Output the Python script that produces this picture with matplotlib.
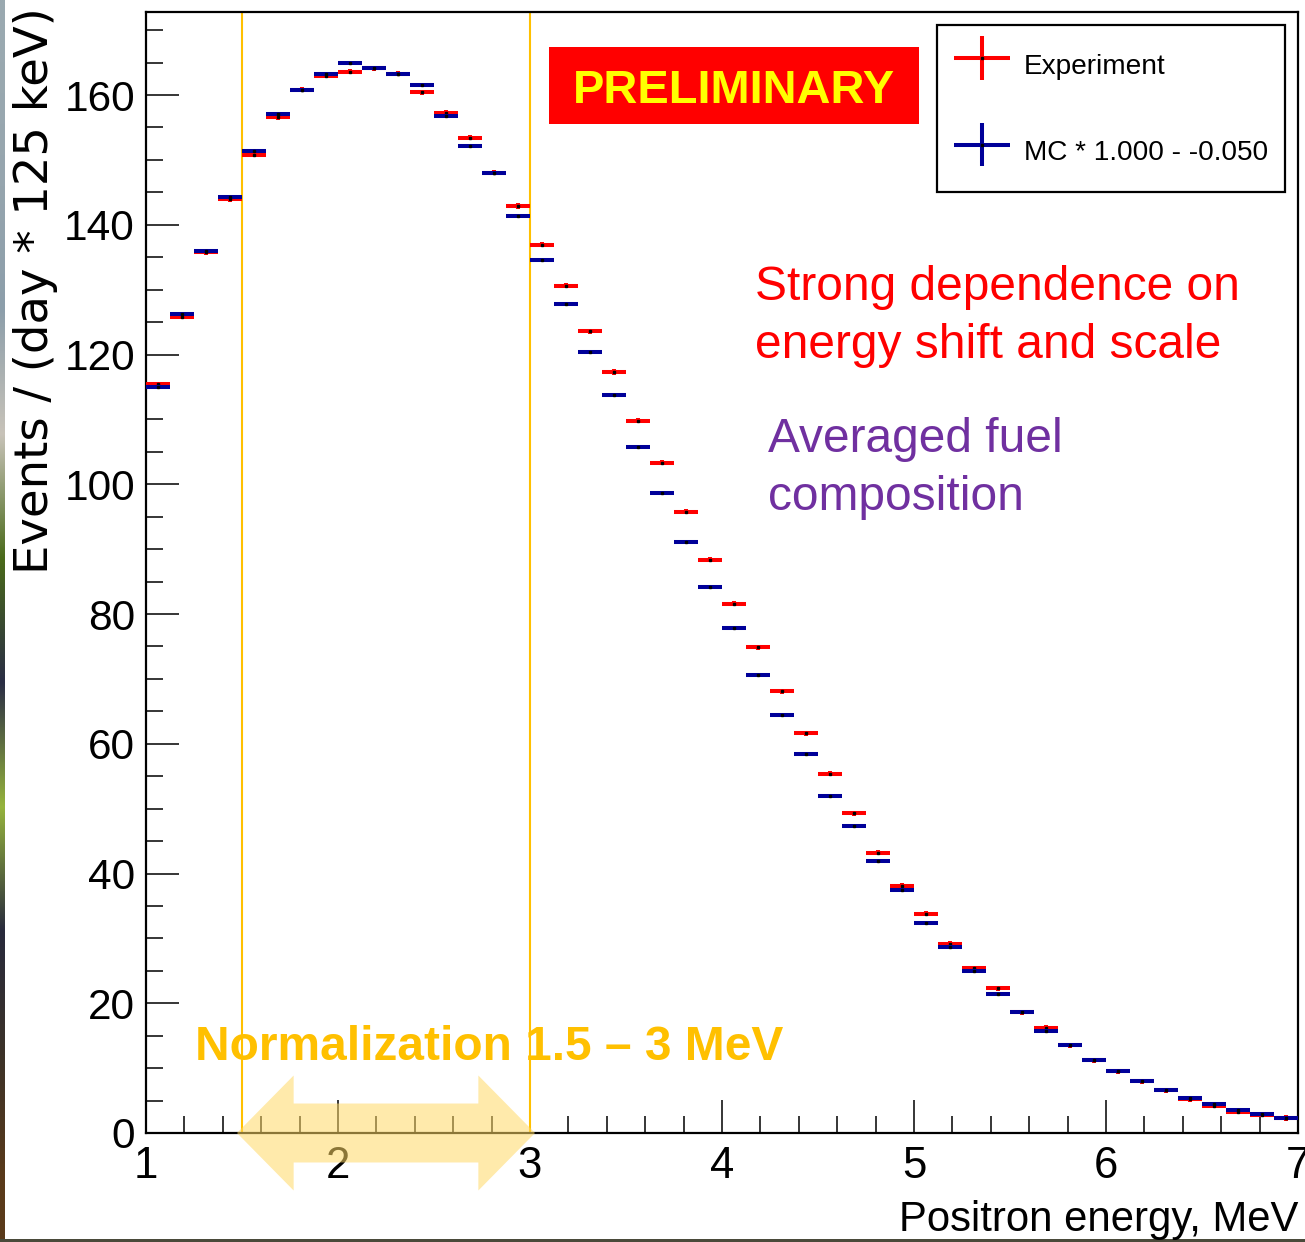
import numpy as np
import matplotlib
matplotlib.use("Agg")
import matplotlib.pyplot as plt
import matplotlib.transforms as mtransforms
from matplotlib.legend_handler import HandlerErrorbar
from matplotlib.patches import Polygon, Rectangle
from matplotlib.ticker import MultipleLocator

# ---- data (125 keV bins from 1 to 7 MeV) ----
E_MIN, E_MAX, BIN_W = 1.0, 7.0, 0.125
exp_counts = [115.4, 125.8, 135.8, 143.9, 150.8, 156.6, 160.8, 163.0,
              163.6, 164.1, 163.3, 160.4, 157.3, 153.4, 148.0, 142.9,
              136.9, 130.6, 123.6, 117.3, 109.8, 103.3, 95.8, 88.4,
              81.6, 74.9, 68.1, 61.6, 55.4, 49.3, 43.2, 38.1,
              33.8, 29.2, 25.4, 22.3, 18.6, 16.2, 13.5, 11.2,
              9.5, 8.0, 6.6, 5.2, 4.2, 3.3, 2.8, 2.3]
mc_counts = [115.0, 126.3, 135.9, 144.3, 151.4, 157.1, 160.8, 163.2,
             165.0, 164.1, 163.3, 161.6, 156.7, 152.2, 148.0, 141.3,
             134.6, 127.8, 120.4, 113.8, 105.8, 98.6, 91.1, 84.2,
             77.9, 70.6, 64.5, 58.4, 51.9, 47.4, 41.9, 37.5,
             32.4, 28.7, 25.0, 21.5, 18.6, 15.8, 13.5, 11.2,
             9.5, 8.0, 6.7, 5.4, 4.4, 3.5, 2.9, 2.3]
exp_err = 0.4   # tiny stat errors
mc_err = 0.25
y_max = 172.8
norm_range = (1.5, 3.0)

labels = ["Experiment", "MC * 1.000 - -0.050"]
x_label = "Positron energy, MeV"
y_label = "Events / (day * 125 keV)"

root_font = "Liberation Sans"
plt.rcParams["font.family"] = ["Liberation Sans", "DejaVu Sans"]

W, H = 1305, 1242
fig = plt.figure(figsize=(W / 100, H / 100), dpi=100)
fig.patch.set_facecolor("white")

# slide background peeking in at the left / bottom edges
strip = fig.add_axes([0, 0, 5 / W, 1])
strip_cols = np.array([[154, 169, 176], [150, 165, 174], [140, 158, 170], [200, 195, 185],
                       [74, 106, 26], [42, 45, 69], [150, 180, 60], [40, 42, 60],
                       [60, 50, 40], [90, 58, 26]]) / 255.0
strip.imshow(strip_cols[:, None, :], aspect="auto", interpolation="bilinear")
strip.set_axis_off()
band = fig.add_axes([0, 0, 1, 3 / H])
band.set_facecolor("#4a4a3a")
band.set_xticks([])
band.set_yticks([])
for s in band.spines.values():
    s.set_visible(False)

ax = fig.add_axes([146 / W, 109 / H, 1152 / W, 1121 / H])
centers = np.arange(E_MIN + BIN_W / 2, E_MAX, BIN_W)

h_exp = ax.errorbar(centers, exp_counts, xerr=BIN_W / 2, yerr=exp_err, fmt="s", ms=1.6,
                    mfc="black", mec="black", ecolor="#ff0000", elinewidth=2.9,
                    capsize=0, zorder=3)
h_mc = ax.errorbar(centers, mc_counts, xerr=BIN_W / 2, yerr=mc_err, fmt="s", ms=1.6,
                   mfc="black", mec="black", ecolor="#000099", elinewidth=2.9,
                   capsize=0, zorder=4)

ax.set_xlim(E_MIN, E_MAX)
ax.set_ylim(0, y_max)
ax.xaxis.set_major_locator(MultipleLocator(1))
ax.xaxis.set_minor_locator(MultipleLocator(0.2))
ax.yaxis.set_major_locator(MultipleLocator(20))
ax.yaxis.set_minor_locator(MultipleLocator(5))
ax.tick_params(which="both", direction="in", top=False, right=False, width=1.1)
ax.tick_params(which="major", length=24)
ax.tick_params(which="minor", length=12)
ax.tick_params(axis="y", pad=8, labelsize=30.5)
ax.tick_params(axis="x", pad=9, labelsize=31.5)
for s in ax.spines.values():
    s.set_linewidth(1.6)

ax.set_xlabel(x_label, loc="right", fontsize=30.2)
ax.xaxis.set_label_coords(1.0, -0.060)
ax.set_ylabel(y_label, loc="top", fontsize=33.5, fontfamily="DejaVu Sans")
ax.yaxis.set_label_coords(-0.0765, 1.004)

# normalization window
for xv in norm_range:
    ax.axvline(xv, color="#FFC000", lw=1.5, zorder=2)

ax.text((195 - 146) / 1152, 0.0651, "Normalization 1.5 – 3 MeV", transform=ax.transAxes,
        color="#FFC000", fontsize=34.5, fontweight="bold", va="baseline", ha="left", zorder=2)

# double arrow below the window
bt = mtransforms.blended_transform_factory(ax.transData, ax.transAxes)
x0, x1 = norm_range[0] - 0.026, norm_range[1] + 0.026
head, shaft_h, head_h = 0.295, 0.0263, 0.0513
arrow = Polygon([(x0, 0), (x0 + head, head_h), (x0 + head, shaft_h), (x1 - head, shaft_h),
                 (x1 - head, head_h), (x1, 0), (x1 - head, -head_h), (x1 - head, -shaft_h),
                 (x0 + head, -shaft_h), (x0 + head, -head_h)],
                closed=True, transform=bt, facecolor="#FFD966", alpha=0.55,
                edgecolor="none", clip_on=False, zorder=10)
ax.add_patch(arrow)

# PRELIMINARY box
ax.add_patch(Rectangle((0.3498, 0.9001), 0.3212, 0.0687, transform=ax.transAxes,
                       facecolor="#FF0000", edgecolor="none", zorder=6))
ax.text(0.5104, 0.9188, "PRELIMINARY", transform=ax.transAxes, color="#FFFF00",
        fontsize=33.8, fontweight="bold", ha="center", va="baseline", zorder=7)

ax.text(0.5286, 0.7431, "Strong dependence on", transform=ax.transAxes, color="#FF0000",
        fontsize=34.5, va="baseline")
ax.text(0.5286, 0.6914, "energy shift and scale", transform=ax.transAxes, color="#FF0000",
        fontsize=34.5, va="baseline")
ax.text(0.5399, 0.6075, "Averaged fuel", transform=ax.transAxes, color="#7030A0",
        fontsize=34.5, va="baseline")
ax.text(0.5399, 0.5558, "composition", transform=ax.transAxes, color="#7030A0",
        fontsize=34.5, va="baseline")

leg = ax.legend([h_exp, h_mc], labels, loc="upper right", bbox_to_anchor=(0.9887, 0.9884),
                prop={"family": root_font, "size": 20.2}, frameon=True, fancybox=False,
                edgecolor="black", framealpha=1, borderpad=0.6, labelspacing=1.45,
                handlelength=2.0, handleheight=2.15, handletextpad=0.5, borderaxespad=0,
                handler_map={type(h_exp): HandlerErrorbar(xerr_size=1.0, yerr_size=0.78,
                                                          ypad=0.42)})
leg.get_frame().set_linewidth(1.6)
leg.set_zorder(8)

fig.savefig("out.png", dpi=100)
